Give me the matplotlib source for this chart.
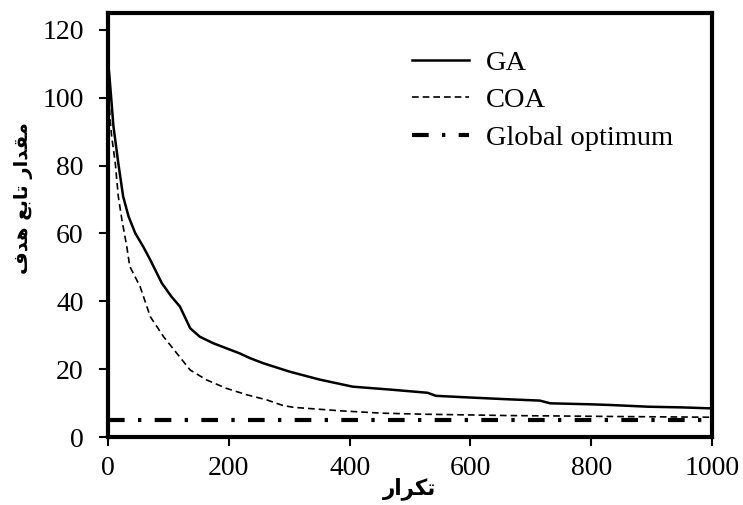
import matplotlib.pyplot as plt

plt.rcParams['font.family'] = ['Liberation Serif', 'DejaVu Serif']

# GA convergence curve
ga_x = [0, 2, 9, 17, 25, 34, 45, 58, 70, 89, 105, 119, 136, 152, 174, 196, 218, 235,
        257, 301, 350, 405, 470, 529, 543, 600, 660, 715, 732, 800, 832, 894, 950, 1000]
ga_y = [110, 107, 91.5, 80.7, 70.9, 65, 60.1, 56.2, 52.2, 45.4, 41.4, 38.5, 32.1, 29.6,
        27.7, 26.2, 24.7, 23.3, 21.8, 19.3, 17.0, 14.9, 14.0, 13.1, 12.2, 11.7, 11.2,
        10.8, 10.0, 9.7, 9.5, 9.0, 8.8, 8.5]

# COA convergence curve
coa_x = [0, 4, 6, 12, 17, 23, 31, 36, 53, 70, 92, 114, 136, 163, 196, 230, 263, 287,
         301, 308, 384, 453, 520, 591, 660, 728, 850, 1000]
coa_y = [103, 92.5, 88.6, 80.7, 70.9, 64, 56.2, 50.3, 44.4, 35.5, 29.6, 24.7, 19.8,
         16.9, 14.4, 12.5, 11.0, 9.5, 9.0, 8.8, 7.8, 7.1, 6.8, 6.6, 6.4, 6.3, 6.1, 5.9]

# global optimum level
opt_x = [0, 1000]
opt_y = [5.2, 5.2]

xticks = [0, 200, 400, 600, 800, 1000]
yticks = [0, 20, 40, 60, 80, 100, 120]

# Persian labels, pre-shaped into presentation forms (visual order)
xlabel = '\uFEAD\uFE8D\uFEAE\uFB91\uFE97'
ylabel = ('\uFED1\uFEAA\uFEEB \uFECA\uFE91\uFE8E\uFE97 '
          '\uFEAD\uFE8D\uFEAA\uFED8\uFEE3')

fig = plt.figure(figsize=(7.43, 5.05), dpi=100)
ax = fig.add_axes([0.1454, 0.1341, 0.8129, 0.8408])

ax.plot(opt_x, opt_y, color='black', lw=3, dashes=(4, 3.2, 0.8, 3.2),
        dash_capstyle='butt', label='Global optimum', zorder=2)
ax.plot(ga_x, ga_y, color='black', lw=1.8, label='GA', zorder=3)
ax.plot(coa_x, coa_y, color='black', lw=1.2, dashes=(4, 2.4), label='COA', zorder=3)

ax.set_xlim(0, 1000)
ax.set_ylim(0, 125)
ax.set_xticks(xticks)
ax.set_yticks(yticks)

for s in ax.spines.values():
    s.set_linewidth(3)

ax.tick_params(axis='both', direction='out', length=6.5, width=1.5, labelsize=20)
ax.tick_params(axis='y', pad=11)
ax.tick_params(axis='x', pad=7)

ax.set_xlabel(xlabel, family=['DejaVu Sans'], fontweight='bold', fontsize=15.5)
ax.xaxis.set_label_coords(0.5, -0.093)
ax.set_ylabel(ylabel, family=['DejaVu Sans'], fontweight='bold', fontsize=14, va='center')
ax.yaxis.set_label_coords(-0.14, 0.564)

handles, labels = ax.get_legend_handles_labels()
order = [1, 2, 0]
ax.legend([handles[i] for i in order], [labels[i] for i in order],
          loc='upper left', bbox_to_anchor=(0.503, 0.913), frameon=False,
          fontsize=20.5, handlelength=2.0, handletextpad=0.6, labelspacing=0.42,
          borderpad=0, borderaxespad=0)

fig.savefig('out.png', dpi=100)
